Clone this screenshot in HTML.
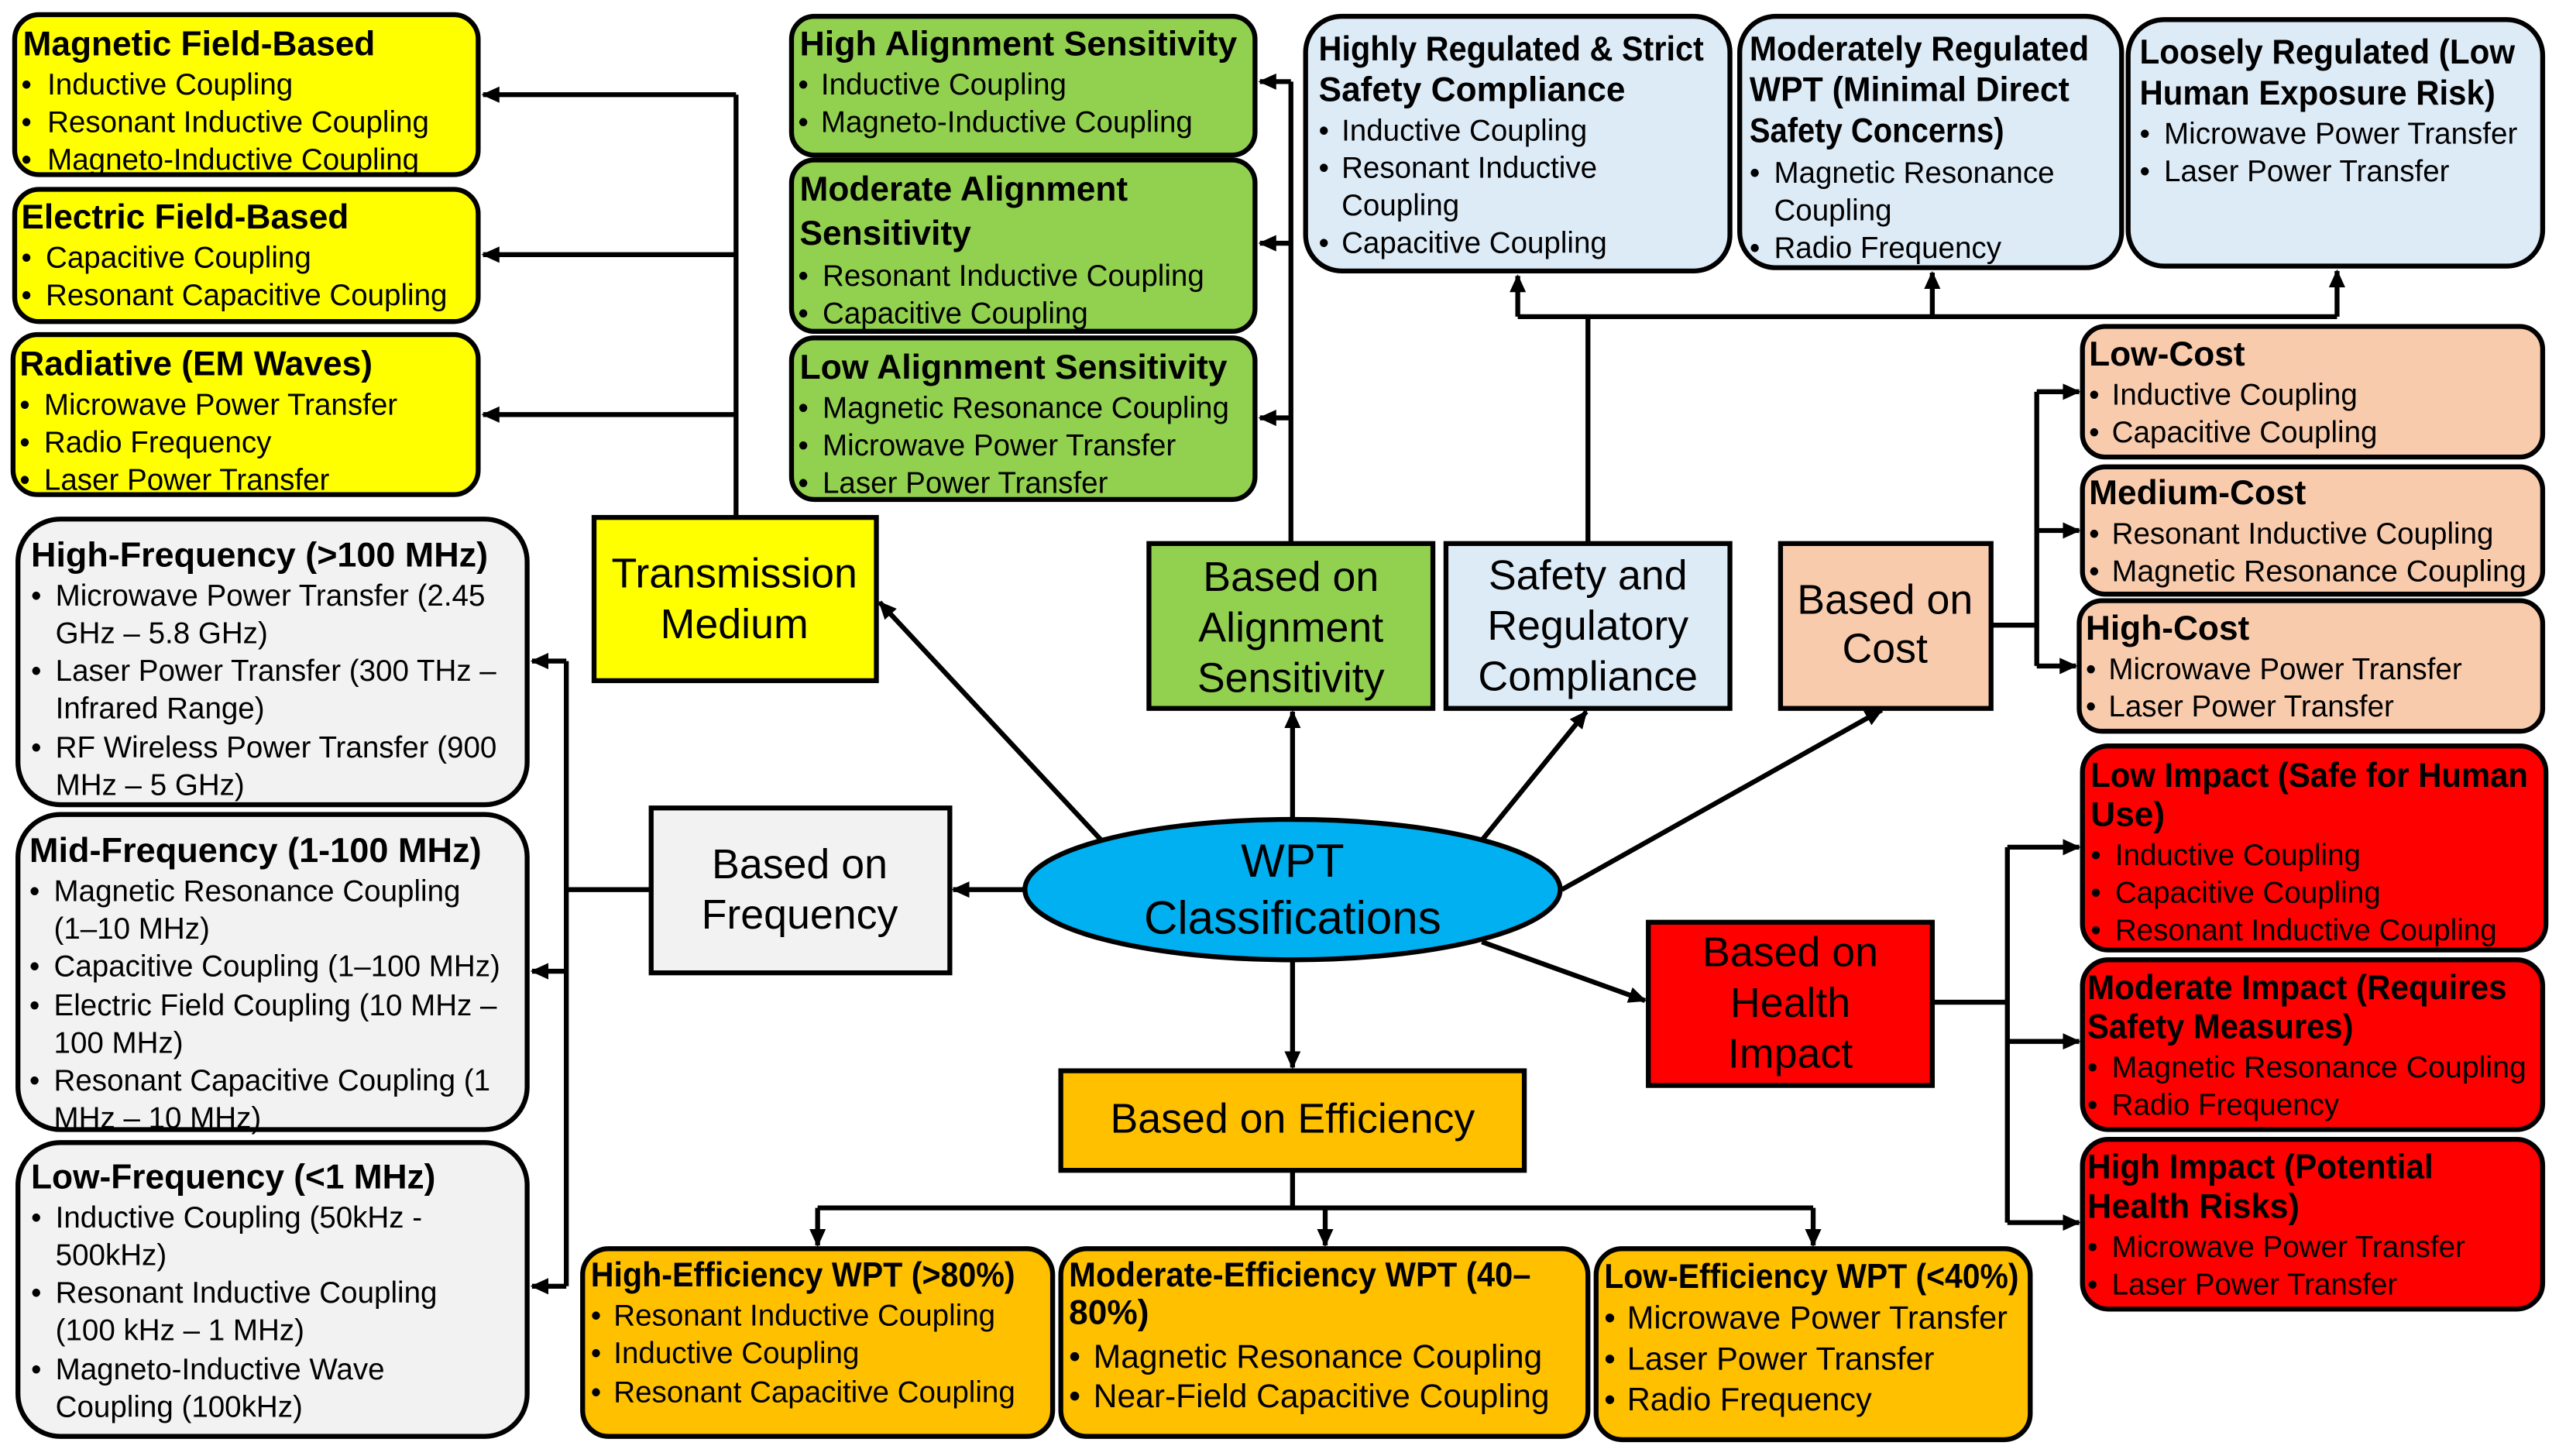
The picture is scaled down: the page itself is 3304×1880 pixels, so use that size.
<!DOCTYPE html>
<html><head><meta charset="utf-8"><style>
html,body{margin:0;padding:0;background:#fff}
svg{display:block}
text{font-family:"Liberation Sans",sans-serif;fill:#000}
.t{font-weight:bold;font-size:21px}
.i{font-size:18.3px}
.b{font-size:25.5px}
.box{stroke:#000;stroke-width:3}
.ln{stroke:#000;stroke-width:3;fill:none}
</style></head><body>
<svg width="3304" height="1880" viewBox="0 0 1568 892" preserveAspectRatio="none" xmlns="http://www.w3.org/2000/svg">
<defs>
<marker id="a" markerUnits="userSpaceOnUse" markerWidth="12" markerHeight="12" refX="10" refY="6" orient="auto"><path d="M0,1 L11,6 L0,11 Z" fill="#000"/></marker>
</defs>

<path class="ln" d="M451,317 V58"/>
<path class="ln" d="M451,58 H296" marker-end="url(#a)"/>
<path class="ln" d="M451,156 H296" marker-end="url(#a)"/>
<path class="ln" d="M451,254 H296" marker-end="url(#a)"/>

<path class="ln" d="M791,333 V50"/>
<path class="ln" d="M791,50 H772" marker-end="url(#a)"/>
<path class="ln" d="M791,149 H772" marker-end="url(#a)"/>
<path class="ln" d="M791,256 H772" marker-end="url(#a)"/>

<path class="ln" d="M973,333 V194 M930,194 H1432"/>
<path class="ln" d="M930,194 V169" marker-end="url(#a)"/>
<path class="ln" d="M1184,194 V167" marker-end="url(#a)"/>
<path class="ln" d="M1432,194 V166" marker-end="url(#a)"/>

<path class="ln" d="M1220,383 H1248 M1248,240 V408"/>
<path class="ln" d="M1248,240 H1274" marker-end="url(#a)"/>
<path class="ln" d="M1248,325 H1274" marker-end="url(#a)"/>
<path class="ln" d="M1248,408 H1272" marker-end="url(#a)"/>

<path class="ln" d="M1184,614 H1230 M1230,519 V749"/>
<path class="ln" d="M1230,519 H1274" marker-end="url(#a)"/>
<path class="ln" d="M1230,638 H1274" marker-end="url(#a)"/>
<path class="ln" d="M1230,749 H1274" marker-end="url(#a)"/>

<path class="ln" d="M399,545 H347 M347,405 V788"/>
<path class="ln" d="M347,405 H326" marker-end="url(#a)"/>
<path class="ln" d="M347,595 H326" marker-end="url(#a)"/>
<path class="ln" d="M347,788 H326" marker-end="url(#a)"/>

<path class="ln" d="M792,717 V740 M501,740 H1111"/>
<path class="ln" d="M501,740 V763" marker-end="url(#a)"/>
<path class="ln" d="M812,740 V763" marker-end="url(#a)"/>
<path class="ln" d="M1111,740 V763" marker-end="url(#a)"/>

<path class="ln" d="M676,516 L539,369" marker-end="url(#a)"/>
<path class="ln" d="M792,502 V436" marker-end="url(#a)"/>
<path class="ln" d="M907,516 L972,436" marker-end="url(#a)"/>
<path class="ln" d="M957,545 L1153,435" marker-end="url(#a)"/>
<path class="ln" d="M908,577 L1008,613" marker-end="url(#a)"/>
<path class="ln" d="M792,588 V654" marker-end="url(#a)"/>
<path class="ln" d="M628,545 H584" marker-end="url(#a)"/>

<g fill="#FFFF00">
<rect class="box" x="9" y="9" width="284" height="98" rx="15"/>
<rect class="box" x="9" y="116" width="284" height="81" rx="15"/>
<rect class="box" x="8" y="205" width="285" height="98" rx="15"/>
<rect class="box" x="364" y="317" width="173" height="100"/>
</g>
<text class="t" x="14" y="34">Magnetic Field-Based</text>
<text class="i" x="13" y="58">•</text><text class="i" x="29" y="58">Inductive Coupling</text>
<text class="i" x="13" y="81">•</text><text class="i" x="29" y="81">Resonant Inductive Coupling</text>
<text class="i" x="13" y="104">•</text><text class="i" x="29" y="104">Magneto-Inductive Coupling</text>
<text class="t" x="13" y="140">Electric Field-Based</text>
<text class="i" x="13" y="164">•</text><text class="i" x="28" y="164">Capacitive Coupling</text>
<text class="i" x="13" y="187">•</text><text class="i" x="28" y="187">Resonant Capacitive Coupling</text>
<text class="t" x="12" y="230">Radiative (EM Waves)</text>
<text class="i" x="12" y="254">•</text><text class="i" x="27" y="254">Microwave Power Transfer</text>
<text class="i" x="12" y="277">•</text><text class="i" x="27" y="277">Radio Frequency</text>
<text class="i" x="12" y="300">•</text><text class="i" x="27" y="300">Laser Power Transfer</text>
<text class="b" x="450" y="360" text-anchor="middle">Transmission</text>
<text class="b" x="450" y="391" text-anchor="middle">Medium</text>

<g fill="#92D050">
<rect class="box" x="485" y="10" width="284" height="85" rx="14"/>
<rect class="box" x="485" y="98" width="284" height="105" rx="14"/>
<rect class="box" x="485" y="207" width="284" height="99" rx="14"/>
<rect class="box" x="704" y="333" width="174" height="101"/>
</g>
<text class="t" x="490" y="34" textLength="268" lengthAdjust="spacingAndGlyphs">High Alignment Sensitivity</text>
<text class="i" x="489" y="58">•</text><text class="i" x="503" y="58">Inductive Coupling</text>
<text class="i" x="489" y="81">•</text><text class="i" x="503" y="81">Magneto-Inductive Coupling</text>
<text class="t" x="490" y="123">Moderate Alignment</text>
<text class="t" x="490" y="150">Sensitivity</text>
<text class="i" x="489" y="175">•</text><text class="i" x="504" y="175">Resonant Inductive Coupling</text>
<text class="i" x="489" y="198">•</text><text class="i" x="504" y="198">Capacitive Coupling</text>
<text class="t" x="490" y="232" textLength="262" lengthAdjust="spacingAndGlyphs">Low Alignment Sensitivity</text>
<text class="i" x="489" y="256">•</text><text class="i" x="504" y="256">Magnetic Resonance Coupling</text>
<text class="i" x="489" y="279">•</text><text class="i" x="504" y="279">Microwave Power Transfer</text>
<text class="i" x="489" y="302">•</text><text class="i" x="504" y="302">Laser Power Transfer</text>
<text class="b" x="791" y="362" text-anchor="middle">Based on</text>
<text class="b" x="791" y="393" text-anchor="middle">Alignment</text>
<text class="b" x="791" y="424" text-anchor="middle">Sensitivity</text>

<g fill="#DDEBF7">
<rect class="box" x="800" y="10" width="260" height="156" rx="22"/>
<rect class="box" x="1066" y="10" width="234" height="154" rx="22"/>
<rect class="box" x="1304" y="12" width="254" height="151" rx="22"/>
<rect class="box" x="886" y="333" width="174" height="101"/>
</g>
<text class="t" x="808" y="37" textLength="236" lengthAdjust="spacingAndGlyphs">Highly Regulated &amp; Strict</text>
<text class="t" x="808" y="62">Safety Compliance</text>
<text class="i" x="808" y="86">•</text><text class="i" x="822" y="86">Inductive Coupling</text>
<text class="i" x="808" y="109">•</text><text class="i" x="822" y="109">Resonant Inductive</text>
<text class="i" x="822" y="132">Coupling</text>
<text class="i" x="808" y="155">•</text><text class="i" x="822" y="155">Capacitive Coupling</text>
<text class="t" x="1072" y="37" textLength="208" lengthAdjust="spacingAndGlyphs">Moderately Regulated</text>
<text class="t" x="1072" y="62" textLength="196" lengthAdjust="spacingAndGlyphs">WPT (Minimal Direct</text>
<text class="t" x="1072" y="87" textLength="156" lengthAdjust="spacingAndGlyphs">Safety Concerns)</text>
<text class="i" x="1072" y="112">•</text><text class="i" x="1087" y="112">Magnetic Resonance</text>
<text class="i" x="1087" y="135">Coupling</text>
<text class="i" x="1072" y="158">•</text><text class="i" x="1087" y="158">Radio Frequency</text>
<text class="t" x="1311" y="39" textLength="230" lengthAdjust="spacingAndGlyphs">Loosely Regulated (Low</text>
<text class="t" x="1311" y="64" textLength="218" lengthAdjust="spacingAndGlyphs">Human Exposure Risk)</text>
<text class="i" x="1311" y="88">•</text><text class="i" x="1326" y="88">Microwave Power Transfer</text>
<text class="i" x="1311" y="111">•</text><text class="i" x="1326" y="111">Laser Power Transfer</text>
<text class="b" x="973" y="361" text-anchor="middle">Safety and</text>
<text class="b" x="973" y="392" text-anchor="middle">Regulatory</text>
<text class="b" x="973" y="423" text-anchor="middle">Compliance</text>

<g fill="#F8CBAD">
<rect class="box" x="1276" y="200" width="282" height="80" rx="14"/>
<rect class="box" x="1276" y="286" width="282" height="78" rx="14"/>
<rect class="box" x="1274" y="368" width="284" height="80" rx="14"/>
<rect class="box" x="1091" y="333" width="129" height="101"/>
</g>
<text class="t" x="1280" y="224">Low-Cost</text>
<text class="i" x="1280" y="248">•</text><text class="i" x="1294" y="248">Inductive Coupling</text>
<text class="i" x="1280" y="271">•</text><text class="i" x="1294" y="271">Capacitive Coupling</text>
<text class="t" x="1280" y="309">Medium-Cost</text>
<text class="i" x="1280" y="333">•</text><text class="i" x="1294" y="333">Resonant Inductive Coupling</text>
<text class="i" x="1280" y="356">•</text><text class="i" x="1294" y="356" textLength="254" lengthAdjust="spacingAndGlyphs">Magnetic Resonance Coupling</text>
<text class="t" x="1278" y="392">High-Cost</text>
<text class="i" x="1278" y="416">•</text><text class="i" x="1292" y="416">Microwave Power Transfer</text>
<text class="i" x="1278" y="439">•</text><text class="i" x="1292" y="439">Laser Power Transfer</text>
<text class="b" x="1155" y="376" text-anchor="middle">Based on</text>
<text class="b" x="1155" y="406" text-anchor="middle">Cost</text>

<g fill="#FF0000">
<rect class="box" x="1276" y="457" width="284" height="125" rx="16"/>
<rect class="box" x="1276" y="588" width="282" height="104" rx="16"/>
<rect class="box" x="1276" y="698" width="282" height="104" rx="16"/>
<rect class="box" x="1010" y="565" width="174" height="100"/>
</g>
<text class="t" x="1281" y="482" textLength="268" lengthAdjust="spacingAndGlyphs">Low Impact (Safe for Human</text>
<text class="t" x="1281" y="506">Use)</text>
<text class="i" x="1281" y="530">•</text><text class="i" x="1296" y="530">Inductive Coupling</text>
<text class="i" x="1281" y="553">•</text><text class="i" x="1296" y="553">Capacitive Coupling</text>
<text class="i" x="1281" y="576">•</text><text class="i" x="1296" y="576">Resonant Inductive Coupling</text>
<text class="t" x="1279" y="612" textLength="257" lengthAdjust="spacingAndGlyphs">Moderate Impact (Requires</text>
<text class="t" x="1279" y="636" textLength="163" lengthAdjust="spacingAndGlyphs">Safety Measures)</text>
<text class="i" x="1279" y="660">•</text><text class="i" x="1294" y="660" textLength="254" lengthAdjust="spacingAndGlyphs">Magnetic Resonance Coupling</text>
<text class="i" x="1279" y="683">•</text><text class="i" x="1294" y="683">Radio Frequency</text>
<text class="t" x="1279" y="722" textLength="212" lengthAdjust="spacingAndGlyphs">High Impact (Potential</text>
<text class="t" x="1279" y="746" textLength="130" lengthAdjust="spacingAndGlyphs">Health Risks)</text>
<text class="i" x="1279" y="770">•</text><text class="i" x="1294" y="770">Microwave Power Transfer</text>
<text class="i" x="1279" y="793">•</text><text class="i" x="1294" y="793">Laser Power Transfer</text>
<text class="b" x="1097" y="592" text-anchor="middle">Based on</text>
<text class="b" x="1097" y="623" text-anchor="middle">Health</text>
<text class="b" x="1097" y="654" text-anchor="middle">Impact</text>

<g fill="#F2F2F2">
<rect class="box" x="11" y="318" width="312" height="175" rx="26"/>
<rect class="box" x="11" y="499" width="312" height="193" rx="26"/>
<rect class="box" x="11" y="700" width="312" height="180" rx="26"/>
<rect class="box" x="399" y="495" width="183" height="101"/>
</g>
<text class="t" x="19" y="347" textLength="280" lengthAdjust="spacingAndGlyphs">High-Frequency (&gt;100 MHz)</text>
<text class="i" x="19" y="371">•</text><text class="i" x="34" y="371">Microwave Power Transfer (2.45</text>
<text class="i" x="34" y="394">GHz – 5.8 GHz)</text>
<text class="i" x="19" y="417">•</text><text class="i" x="34" y="417">Laser Power Transfer (300 THz –</text>
<text class="i" x="34" y="440">Infrared Range)</text>
<text class="i" x="19" y="464">•</text><text class="i" x="34" y="464">RF Wireless Power Transfer (900</text>
<text class="i" x="34" y="487">MHz – 5 GHz)</text>
<text class="t" x="18" y="528" textLength="277" lengthAdjust="spacingAndGlyphs">Mid-Frequency (1-100 MHz)</text>
<text class="i" x="18" y="552">•</text><text class="i" x="33" y="552">Magnetic Resonance Coupling</text>
<text class="i" x="33" y="575">(1–10 MHz)</text>
<text class="i" x="18" y="598">•</text><text class="i" x="33" y="598">Capacitive Coupling (1–100 MHz)</text>
<text class="i" x="18" y="622">•</text><text class="i" x="33" y="622">Electric Field Coupling (10 MHz –</text>
<text class="i" x="33" y="645">100 MHz)</text>
<text class="i" x="18" y="668">•</text><text class="i" x="33" y="668">Resonant Capacitive Coupling (1</text>
<text class="i" x="33" y="691">MHz – 10 MHz)</text>
<text class="t" x="19" y="728">Low-Frequency (&lt;1 MHz)</text>
<text class="i" x="19" y="752">•</text><text class="i" x="34" y="752">Inductive Coupling (50kHz -</text>
<text class="i" x="34" y="775">500kHz)</text>
<text class="i" x="19" y="798">•</text><text class="i" x="34" y="798">Resonant Inductive Coupling</text>
<text class="i" x="34" y="821">(100 kHz – 1 MHz)</text>
<text class="i" x="19" y="845">•</text><text class="i" x="34" y="845">Magneto-Inductive Wave</text>
<text class="i" x="34" y="868">Coupling (100kHz)</text>
<text class="b" x="490" y="538" text-anchor="middle">Based on</text>
<text class="b" x="490" y="569" text-anchor="middle">Frequency</text>

<g fill="#FFC000">
<rect class="box" x="650" y="656" width="284" height="61"/>
<rect class="box" x="357" y="765" width="288" height="115" rx="16"/>
<rect class="box" x="650" y="765" width="323" height="115" rx="16"/>
<rect class="box" x="978" y="765" width="266" height="117" rx="16"/>
</g>
<text class="b" x="792" y="694" text-anchor="middle">Based on Efficiency</text>
<text class="t" x="362" y="788" textLength="260" lengthAdjust="spacingAndGlyphs">High-Efficiency WPT (&gt;80%)</text>
<text class="i" x="362" y="812">•</text><text class="i" x="376" y="812">Resonant Inductive Coupling</text>
<text class="i" x="362" y="835">•</text><text class="i" x="376" y="835">Inductive Coupling</text>
<text class="i" x="362" y="859">•</text><text class="i" x="376" y="859">Resonant Capacitive Coupling</text>
<text class="t" x="655" y="788" textLength="283" lengthAdjust="spacingAndGlyphs">Moderate-Efficiency WPT (40–</text>
<text class="t" x="655" y="811">80%)</text>
<text class="i" x="655" y="838" style="font-size:20.2px">•</text><text class="i" x="670" y="838" style="font-size:20.2px">Magnetic Resonance Coupling</text>
<text class="i" x="655" y="862" style="font-size:20.2px">•</text><text class="i" x="670" y="862" style="font-size:20.2px">Near-Field Capacitive Coupling</text>
<text class="t" x="983" y="789" textLength="254" lengthAdjust="spacingAndGlyphs">Low-Efficiency WPT (&lt;40%)</text>
<text class="i" x="983" y="814" style="font-size:19.7px">•</text><text class="i" x="997" y="814" style="font-size:19.7px">Microwave Power Transfer</text>
<text class="i" x="983" y="839" style="font-size:19.7px">•</text><text class="i" x="997" y="839" style="font-size:19.7px">Laser Power Transfer</text>
<text class="i" x="983" y="864" style="font-size:19.7px">•</text><text class="i" x="997" y="864" style="font-size:19.7px">Radio Frequency</text>

<ellipse cx="792" cy="545" rx="164" ry="43" fill="#00B0F0" stroke="#000" stroke-width="3"/>
<text x="792" y="537" text-anchor="middle" style="font-size:28.5px">WPT</text>
<text x="792" y="572" text-anchor="middle" style="font-size:28.5px">Classifications</text>
</svg>
</body></html>
